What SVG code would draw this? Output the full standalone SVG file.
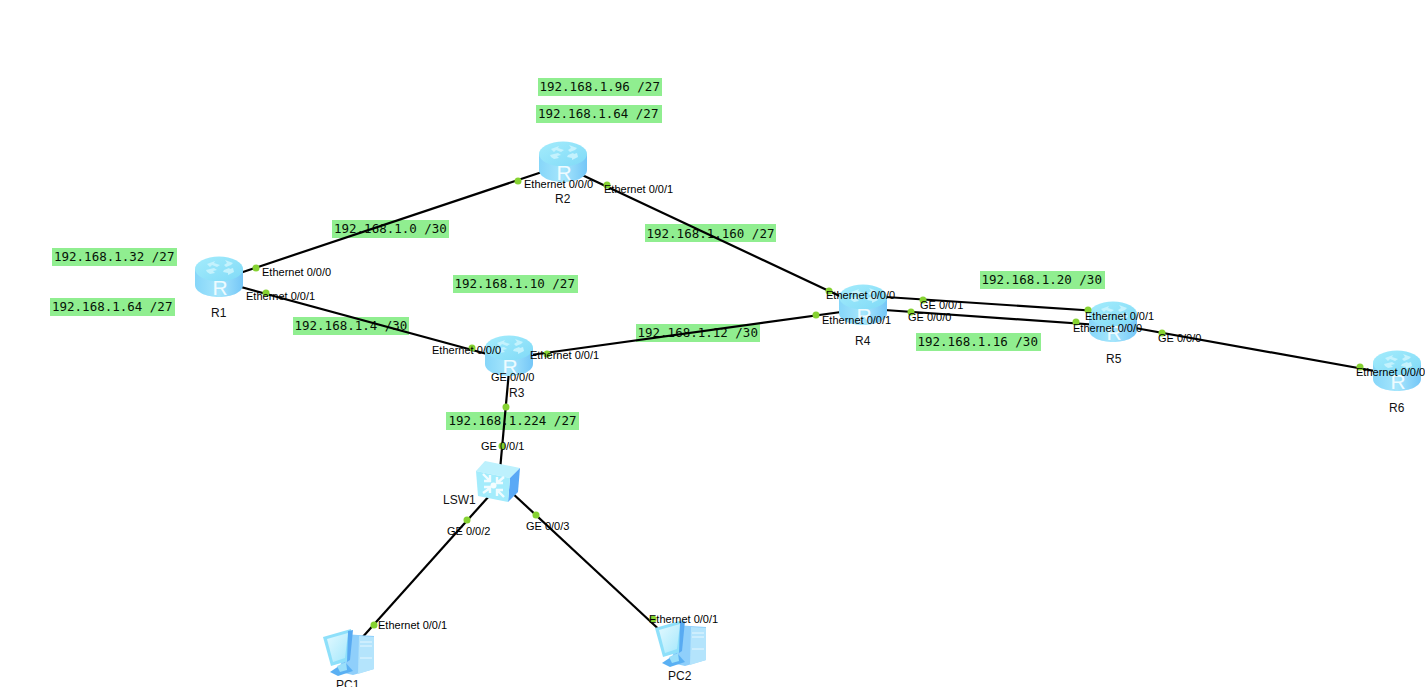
<svg xmlns="http://www.w3.org/2000/svg" xmlns:xlink="http://www.w3.org/1999/xlink" width="1425" height="687" viewBox="0 0 1425 687">
<style>
  .note rect { fill: #90ee90; }
  .note text { font: 12.5px "DejaVu Sans Mono", "Liberation Mono", monospace; fill: #071207; }
  .link { stroke: #000; stroke-width: 2.200; fill: none; }
  .dot { fill: #86d232; }
  .port { font: 11px "Liberation Sans", Arial, sans-serif; fill: #000; }
  .name { font: 12px "Liberation Sans", Arial, sans-serif; fill: #111; }
</style>
<defs>
  <linearGradient id="body" x1="0" x2="1" y1="0" y2="0">
    <stop offset="0" stop-color="#86d6f9"/><stop offset="0.5" stop-color="#a6e6fc"/><stop offset="1" stop-color="#74c6f7"/>
  </linearGradient>
  <linearGradient id="top" x1="0" x2="1" y1="0" y2="1">
    <stop offset="0" stop-color="#a4ecfc"/><stop offset="1" stop-color="#80daf7"/>
  </linearGradient>
  <linearGradient id="screen" x1="0" x2="1" y1="0" y2="1">
    <stop offset="0" stop-color="#e2f9ff"/><stop offset="1" stop-color="#a6e8fc"/>
  </linearGradient>
  <g id="router">
    <path d="M0 13 V29 C0 36 11 41 24 41 C37 41 48 36 48 29 V13 Z" fill="url(#body)"/>
    <ellipse cx="24" cy="13" rx="24" ry="12.500" fill="url(#top)"/>
    <path d="M12 8 L20 5 L19 7 L25 9 L22 11 L17 9 L15 11 Z M30 4 L38 7 L36 9 L31 11 L29 9 L32 7 Z M11 14 L19 12 L22 14 L18 15 L20 17 L15 18 L12 16 Z M29 14 L34 12 L35 13 L38 12 L39 16 L33 19 L33 17 L28 16 Z" fill="#c4f2fd"/>
    <text x="25" y="39" text-anchor="middle" font-family="'Liberation Sans', Arial, sans-serif" font-size="21" fill="#eefbff">R</text>
  </g>
  <g id="pc">
    <path d="M22 6 L36 7 L52 8 V41 L31 47 L18 44 Z" fill="#8fcffb"/>
    <path d="M37 8 L52 9 V41 L36 46 Z" fill="#b4e4fc"/>
    <path d="M38 14 H50 M38 18 H50 M38 30 H50" stroke="#e6f7ff" stroke-width="1"/>
    <path d="M1 9 L29 1 L26 33 L9 38 Z" fill="#8ee0fa"/>
    <path d="M26 3 L31 2 L28 32 L25 34 Z" fill="#58aaf2"/>
    <path d="M5 11 L26 5 L23 30 L11 34 Z" fill="url(#screen)"/>
    <path d="M8 44 L23 34 L31 43 L16 48 Z" fill="#5ab0f3"/>
    <path d="M15 38 L24 34 L25 42 L18 44 Z" fill="#9adffa"/>
  </g>
</defs>

<rect width="1425" height="687" fill="#fff"/>

<g id="subnets" class="note">
  <rect x="538" y="78" width="124" height="18"/><text x="539.500" y="90.500">192.168.1.96 /27</text>
  <rect x="536" y="105" width="126" height="18"/><text x="538" y="118">192.168.1.64 /27</text>
  <rect x="332" y="220" width="117" height="18"/><text x="334" y="233">192.168.1.0 /30</text>
  <rect x="645" y="224" width="131" height="18"/><text x="646.500" y="237.500">192.168.1.160 /27</text>
  <rect x="980" y="271" width="125" height="18"/><text x="981.500" y="284">192.168.1.20 /30</text>
  <rect x="916" y="333" width="125" height="18"/><text x="917.500" y="346">192.168.1.16 /30</text>
  <rect x="636" y="324" width="124" height="18"/><text x="637.500" y="337">192.168.1.12 /30</text>
  <rect x="52" y="248" width="125" height="18"/><text x="54" y="261">192.168.1.32 /27</text>
  <rect x="50" y="298" width="125" height="18"/><text x="52" y="311">192.168.1.64 /27</text>
  <rect x="453" y="275" width="125" height="18"/><text x="454.500" y="288">192.168.1.10 /27</text>
  <rect x="293" y="317" width="116" height="18"/><text x="294.500" y="330">192.168.1.4 /30</text>
  <rect x="446" y="412" width="133" height="18"/><text x="448.500" y="425">192.168.1.224 /27</text>
</g>

<g id="connectors">
  <path class="link" d="M219 280 L563 165"/>
  <path class="link" d="M219 281 L509 360"/>
  <path class="link" d="M563 166 L863 307"/>
  <path class="link" d="M509 358 L863 309"/>
  <path class="link" d="M863 295.500 L1113 312"/>
  <path class="link" d="M863 308.500 L1113 326"/>
  <path class="link" d="M1113 324 L1397 375"/>
  <path class="link" d="M510 360 L500 470"/>
  <path class="link" d="M490 495 L360 640"/>
  <path class="link" d="M510 491 L665 635"/>
</g>

<g id="R1"><use href="#router" x="195" y="256"/><text class="name" x="211" y="317">R1</text></g>
<g id="R2"><use href="#router" x="539" y="141"/><text class="name" x="555" y="203">R2</text></g>
<g id="R3"><use href="#router" x="485" y="335"/><text class="name" x="509" y="397">R3</text></g>
<g id="R4"><use href="#router" x="839" y="284"/><text class="name" x="855" y="345">R4</text></g>
<g id="R5"><use href="#router" x="1089" y="301"/><text class="name" x="1106" y="363">R5</text></g>
<g id="R6"><use href="#router" x="1373" y="350"/><text class="name" x="1389" y="412">R6</text></g>

<g id="LSW1">
  <path d="M476 471 L485 461 L520 468 L510 478 Z" fill="#bdf1fd"/>
  <path d="M510 478 L520 468 L518 492 L508 502 Z" fill="#5aa9f6"/>
  <path d="M476 471 L510 478 L508 502 L478 496 Z" fill="#a4ecfc"/>
  <g fill="none" stroke="#f0fcff" stroke-width="2.400">
    <path d="M483 474 L490 481 M490 475 V481 H484"/>
    <path d="M504 477 L497 483 M497 477 V483 H503"/>
    <path d="M483 493 L490 488 M484 487 H490 V493"/>
    <path d="M504 497 L497 490 M497 496 V490 H503"/>
  </g>
  <circle cx="493.500" cy="485.500" r="3" fill="#f4feff"/>
  <text class="name" x="443" y="504">LSW1</text>
</g>

<g id="PC1"><use href="#pc" x="322" y="628"/><text class="name" x="336" y="689">PC1</text></g>
<g id="PC2"><use href="#pc" x="654" y="619"/><text class="name" x="668" y="680">PC2</text></g>

<g id="ports">
  <g class="dot">
    <circle cx="256" cy="268" r="3.500"/><circle cx="266" cy="293" r="3.500"/>
    <circle cx="518" cy="181" r="3.500"/><circle cx="607" cy="185" r="3.500"/>
    <circle cx="472" cy="348" r="3.500"/><circle cx="547" cy="354" r="3.500"/><circle cx="506" cy="407" r="3.500"/>
    <circle cx="502" cy="446" r="3.500"/><circle cx="467" cy="520" r="3.500"/><circle cx="536" cy="515" r="3.500"/>
    <circle cx="374" cy="625" r="3.500"/><circle cx="653" cy="619" r="3.500"/>
    <circle cx="829" cy="291" r="3.500"/><circle cx="816" cy="315" r="3.500"/><circle cx="923" cy="300" r="3.500"/><circle cx="911" cy="312" r="3.500"/>
    <circle cx="1088" cy="310" r="3.500"/><circle cx="1076" cy="322" r="3.500"/><circle cx="1162" cy="333" r="3.500"/><circle cx="1360" cy="367" r="3.500"/>
  </g>
  <text class="port" x="262" y="276">Ethernet 0/0/0</text>
  <text class="port" x="246" y="300">Ethernet 0/0/1</text>
  <text class="port" x="524" y="188">Ethernet 0/0/0</text>
  <text class="port" x="604" y="193">Ethernet 0/0/1</text>
  <text class="port" x="432" y="354">Ethernet 0/0/0</text>
  <text class="port" x="530" y="359">Ethernet 0/0/1</text>
  <text class="port" x="491" y="381">GE 0/0/0</text>
  <text class="port" x="481" y="450">GE 0/0/1</text>
  <text class="port" x="447" y="535">GE 0/0/2</text>
  <text class="port" x="526" y="530">GE 0/0/3</text>
  <text class="port" x="378" y="629">Ethernet 0/0/1</text>
  <text class="port" x="649" y="623">Ethernet 0/0/1</text>
  <text class="port" x="826" y="299">Ethernet 0/0/0</text>
  <text class="port" x="822" y="324">Ethernet 0/0/1</text>
  <text class="port" x="920" y="309">GE 0/0/1</text>
  <text class="port" x="908" y="321">GE 0/0/0</text>
  <text class="port" x="1085" y="320">Ethernet 0/0/1</text>
  <text class="port" x="1073" y="332">Ethernet 0/0/0</text>
  <text class="port" x="1158" y="342">GE 0/0/0</text>
  <text class="port" x="1356" y="376">Ethernet 0/0/0</text>
</g>
</svg>
